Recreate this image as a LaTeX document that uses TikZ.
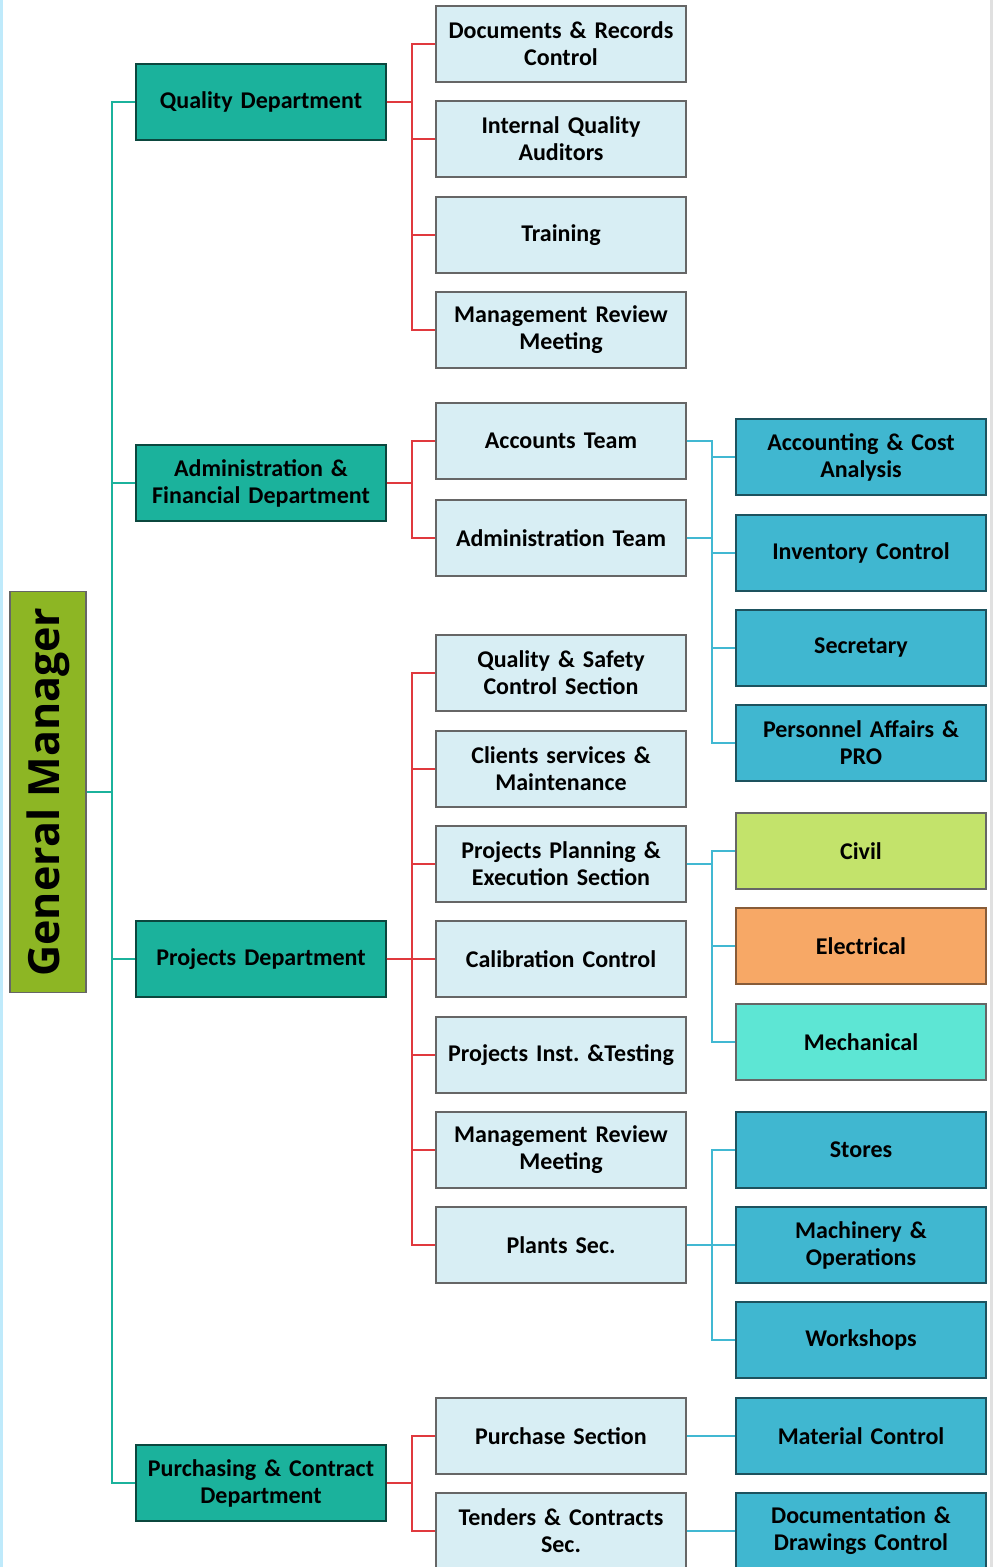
\documentclass[tikz,border=0pt]{standalone}
\usepackage{fontspec}
\setmainfont{Carlito}
\newfontfamily\gmfont{Open Sans}
\usetikzlibrary{positioning}
\frenchspacing

\definecolor{gmgreen}{HTML}{8DB624}
\definecolor{deptteal}{HTML}{1BB29C}
\definecolor{secblue}{HTML}{D8EEF4}
\definecolor{subblue}{HTML}{40B7D0}
\definecolor{civilgreen}{HTML}{C3E36B}
\definecolor{elecorange}{HTML}{F7A866}
\definecolor{mechcyan}{HTML}{5DE6D4}
\definecolor{redline}{HTML}{E0393E}
\definecolor{bluelink}{HTML}{41B8D2}

\begin{document}
\begin{tikzpicture}[
    x=1pt, y=-1pt,
    box/.style={rectangle, draw=gray!80!black, line width=1.2pt, minimum width=250pt,
        minimum height=76pt, text width=244pt, align=center, inner sep=0pt,
        font=\fontsize{24}{27}\selectfont\bfseries},
    dept/.style={box, fill=deptteal, draw=black!60!deptteal},
    sec/.style={box, fill=secblue},
    sub/.style={box, fill=subblue, draw=black!55!subblue},
    tlink/.style={deptteal, line width=2.2pt},
    rlink/.style={redline, line width=2.2pt},
    blink/.style={bluelink, line width=2.2pt},
]
\useasboundingbox (0,0) rectangle (993,1567);
\fill[cyan!25] (0,0) rectangle (3,1567);
\fill[black!12] (990,0) rectangle (993,1567);

% General Manager
\node[draw=black!60, fill=gmgreen, line width=1.2pt, minimum width=401pt, minimum height=76pt,
    inner sep=0pt, rotate=90, font=\gmfont\bfseries\fontsize{43}{46}\selectfont] (gm) at (48,792) {General Manager};

% Departments
\node[dept] (qual) at (261,102) {Quality Department};
\node[dept] (admin) at (261,483) {Administration \&\\Financial Department};
\node[dept] (proj) at (261,959) {Projects Department};
\node[dept] (purch) at (261,1483) {Purchasing \& Contract\\Department};

% Sections of quality
\node[sec] (docs) at (561,44) {Documents \& Records\\Control};
\node[sec] (iqa) at (561,139) {Internal Quality\\Auditors};
\node[sec] (train) at (561,235) {Training};
\node[sec] (mrmq) at (561,330) {Management Review\\Meeting};

% Sections of administration
\node[sec] (acct) at (561,441) {Accounts Team};
\node[sec] (admt) at (561,538) {Administration Team};

% Sections of projects
\node[sec] (qsc) at (561,673) {Quality \& Safety\\Control Section};
\node[sec] (cli) at (561,769) {Clients services \&\\Maintenance};
\node[sec] (ppe) at (561,864) {Projects Planning \&\\Execution Section};
\node[sec] (cal) at (561,959) {Calibration Control};
\node[sec] (pit) at (561,1055) {Projects Inst. \&Testing};
\node[sec] (mrmp) at (561,1150) {Management Review\\Meeting};
\node[sec] (plant) at (561,1245) {Plants Sec.};

% Sections of purchasing
\node[sec] (pursec) at (561,1436) {Purchase Section};
\node[sec] (tend) at (561,1531) {Tenders \& Contracts\\Sec.};

% Units
\node[sub] (accost) at (861,457) {Accounting \& Cost\\Analysis};
\node[sub] (inv) at (861,553) {Inventory Control};
\node[sub] (secr) at (861,648) {Secretary};
\node[sub] (pers) at (861,743) {Personnel Affairs \&\\PRO};
\node[box, fill=civilgreen] (civil) at (861,851) {Civil};
\node[box, fill=elecorange, draw=black!45!elecorange] (elec) at (861,946) {Electrical};
\node[box, fill=mechcyan] (mech) at (861,1042) {Mechanical};
\node[sub] (stores) at (861,1150) {Stores};
\node[sub] (mach) at (861,1245) {Machinery \&\\Operations};
\node[sub] (work) at (861,1340) {Workshops};
\node[sub] (matc) at (861,1436) {Material Control};
\node[sub] (docdr) at (861,1531) {Documentation \&\\Drawings Control};

% Links from general manager
\foreach \d in {qual,admin,proj,purch}
    \draw[tlink] (gm.south) -- ++(25,0) |- (\d.west);

% Links from departments
\foreach \s in {docs,iqa,train,mrmq}
    \draw[rlink] (qual.east) -- ++(25,0) |- (\s.west);
\foreach \s in {acct,admt}
    \draw[rlink] (admin.east) -- ++(25,0) |- (\s.west);
\foreach \s in {qsc,cli,ppe,cal,pit,mrmp,plant}
    \draw[rlink] (proj.east) -- ++(25,0) |- (\s.west);
\foreach \s in {pursec,tend}
    \draw[rlink] (purch.east) -- ++(25,0) |- (\s.west);

% Links from sections
\foreach \u in {accost,inv,secr,pers}
    \draw[blink] (acct.east) -- ++(25,0) |- (\u.west);
\draw[blink] (admt.east) -- ++(25,0);
\foreach \u in {civil,elec,mech}
    \draw[blink] (ppe.east) -- ++(25,0) |- (\u.west);
\foreach \u in {stores,mach,work}
    \draw[blink] (plant.east) -- ++(25,0) |- (\u.west);
\draw[blink] (pursec.east) -- (matc.west);
\draw[blink] (tend.east) -- (docdr.west);

\end{tikzpicture}
\end{document}
